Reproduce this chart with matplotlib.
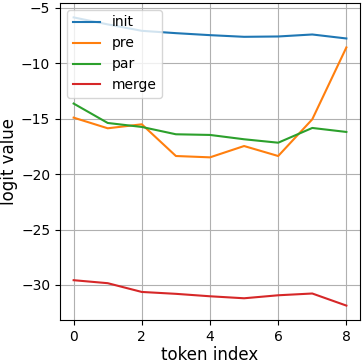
import numpy as np
import matplotlib
matplotlib.use('Agg')
import matplotlib.pyplot as plt

tokens = list(range(9))
init = [-5.87, -6.5, -7.08, -7.29, -7.47, -7.62, -7.59, -7.41, -7.77]
pre = [-14.91, -15.87, -15.51, -18.37, -18.49, -17.47, -18.37, -15.06, -8.58]
par = [-13.64, -15.39, -15.75, -16.41, -16.47, -16.86, -17.17, -15.84, -16.2]
merge = [-29.57, -29.84, -30.63, -30.8, -31.02, -31.2, -30.93, -30.77, -31.86]

fig = plt.figure(figsize=(3.63, 3.63), dpi=100)
ax = fig.add_axes([60/363, 43/363, 300/363, 317/363])
ax.plot(tokens, init, label='init')
ax.plot(tokens, pre, label='pre')
ax.plot(tokens, par, label='par')
ax.plot(tokens, merge, label='merge')
ax.set_xlabel('token index', fontsize=12, labelpad=2)
ax.set_ylabel('logit value', fontsize=12, labelpad=2)
ax.legend(loc='upper left')
ax.grid()
fig.savefig('out.png', dpi=100)
